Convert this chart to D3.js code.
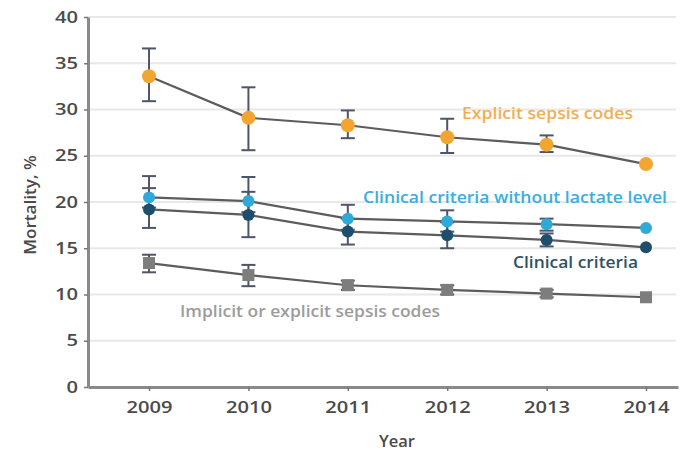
<!DOCTYPE html>
<html>
<head>
<meta charset="utf-8">
<script src="https://cdn.jsdelivr.net/npm/d3@7"></script>
<style>
  html, body { margin: 0; padding: 0; background: #fff; }
  svg { display: block; font-family: "Open Sans", "DejaVu Sans", sans-serif; }
</style>
</head>
<body>
<svg id="chart" width="681" height="452"></svg>
<script>
// Years on the x axis
const years = [2009, 2010, 2011, 2012, 2013, 2014];
const yTicks = [0, 5, 10, 15, 20, 25, 30, 35, 40];

// Mortality (%) with 95% CI, per definition
const explicitMort = [33.6, 29.1, 28.3, 27.0, 26.2, 24.1];
const explicitLo   = [30.9, 25.6, 26.9, 25.3, 25.4, null];
const explicitHi   = [36.6, 32.4, 29.9, 29.0, 27.2, null];

const noLactateMort = [20.5, 20.1, 18.2, 17.9, 17.6, 17.2];
const noLactateLo   = [19.4, 18.9, 17.0, 16.8, 16.9, null];
const noLactateHi   = [21.5, 21.1, 19.7, 19.1, 18.2, null];

const clinicalMort = [19.2, 18.6, 16.8, 16.4, 15.9, 15.1];
const clinicalLo   = [17.2, 16.2, 15.4, 15.0, 15.2, null];
const clinicalHi   = [22.8, 22.7, 18.2, 17.8, 16.6, null];

const implicitMort = [13.4, 12.1, 11.0, 10.5, 10.1, 9.7];
const implicitLo   = [12.4, 10.9, 10.5, 10.0, 9.7, null];
const implicitHi   = [14.3, 13.2, 11.5, 11.0, 10.5, null];

const seriesNames = [
  "Explicit sepsis codes",
  "Clinical criteria without lactate level",
  "Clinical criteria",
  "Implicit or explicit sepsis codes"
];

const svg = d3.select("#chart");

const x = d3.scaleLinear().domain([2008.386, 2014.322]).range([88, 678]);
const y = d3.scaleLinear().domain([0, 40]).range([387, 17]);

// Wide lettering: stretch each string to a fixed advance per character
function stretch(sel, perChar) {
  sel.each(function () {
    const t = d3.select(this);
    t.attr("textLength", t.text().length * perChar).attr("lengthAdjust", "spacingAndGlyphs");
  });
}

// Horizontal gridlines
svg.append("g")
  .selectAll("line")
  .data(yTicks.filter(d => d > 0))
  .join("line")
  .attr("x1", x.range()[0]).attr("x2", 676)
  .attr("y1", d => y(d)).attr("y2", d => y(d))
  .attr("stroke", "#e8e8e8").attr("stroke-width", 2);

// Axes
const yAxis = svg.append("g")
  .attr("transform", `translate(${x.range()[0]},0)`)
  .call(d3.axisLeft(y).tickValues(yTicks).tickSize(4).tickPadding(6).tickSizeOuter(0));
const xAxis = svg.append("g")
  .attr("transform", `translate(0,${y(0)})`)
  .call(d3.axisBottom(x).tickValues(years).tickFormat(d3.format("d")).tickSize(4).tickPadding(11).tickSizeOuter(0));

[yAxis, xAxis].forEach(g => {
  g.select(".domain").attr("stroke", "#8a8a8a").attr("stroke-width", 3);
  g.selectAll(".tick line").attr("stroke", "#777").attr("stroke-width", 1.5);
  g.selectAll(".tick text").attr("fill", "#4a4a4a").attr("font-size", 16)
    .attr("font-weight", 600)
    .attr("font-family", "Open Sans, DejaVu Sans, sans-serif")
    .call(stretch, 11.5);
});

// Axis titles
svg.append("text")
  .attr("transform", `translate(36,205) rotate(-90)`)
  .attr("text-anchor", "middle")
  .attr("fill", "#4a4a4a").attr("font-size", 16).attr("font-weight", 600)
  .text("Mortality, %")
  .call(stretch, 8.3);
svg.append("text")
  .attr("x", 397).attr("y", 447)
  .attr("text-anchor", "middle")
  .attr("fill", "#4a4a4a").attr("font-size", 16).attr("font-weight", 600)
  .text("Year")
  .call(stretch, 9);

const series = [
  { name: seriesNames[3], mort: implicitMort, lo: implicitLo, hi: implicitHi, color: "#7d7d7d", shape: "square", size: 12,
    label: { x: 180, y: 312, w: 260, color: "#9c9c9c" } },
  { name: seriesNames[0], mort: explicitMort, lo: explicitLo, hi: explicitHi, color: "#f2a531", shape: "circle", size: 7,
    label: { x: 462, y: 114, w: 171, color: "#f4ae52" } },
  { name: seriesNames[2], mort: clinicalMort, lo: clinicalLo, hi: clinicalHi, color: "#1d4f6c", shape: "circle", size: 6,
    label: { x: 513, y: 263, w: 125, color: "#2f5266" } },
  { name: seriesNames[1], mort: noLactateMort, lo: noLactateLo, hi: noLactateHi, color: "#2fa9d8", shape: "circle", size: 6,
    label: { x: 363, y: 198, w: 304, color: "#3aaee0" } }
];

const line = d3.line().x((d, i) => x(years[i])).y(d => y(d));

// Connecting lines
series.forEach(s => {
  svg.append("path")
    .datum(s.mort)
    .attr("d", line)
    .attr("fill", "none")
    .attr("stroke", "#5c5c5c")
    .attr("stroke-width", 2.2);
});

// Error bars
series.forEach(s => {
  const g = svg.append("g");
  years.forEach((yr, i) => {
    if (s.lo[i] == null) return;
    const cx = x(yr);
    g.append("line").attr("x1", cx).attr("x2", cx)
      .attr("y1", y(s.lo[i])).attr("y2", y(s.hi[i]))
      .attr("stroke", "#4f5568").attr("stroke-width", 2);
    [s.lo[i], s.hi[i]].forEach(v => {
      g.append("line").attr("x1", cx - 7).attr("x2", cx + 7)
        .attr("y1", y(v)).attr("y2", y(v))
        .attr("stroke", "#4f5568").attr("stroke-width", 2);
    });
  });
});

// Markers and series labels
series.forEach(s => {
  const g = svg.append("g");
  if (s.shape === "square") {
    g.selectAll("rect").data(s.mort).join("rect")
      .attr("x", (d, i) => x(years[i]) - s.size / 2)
      .attr("y", d => y(d) - s.size / 2)
      .attr("width", s.size).attr("height", s.size)
      .attr("fill", s.color);
  } else {
    g.selectAll("circle").data(s.mort).join("circle")
      .attr("cx", (d, i) => x(years[i]))
      .attr("cy", d => y(d))
      .attr("r", s.size)
      .attr("fill", s.color);
  }
  svg.append("text")
    .attr("x", s.label.x).attr("y", s.label.y)
    .attr("dy", "0.35em")
    .attr("fill", s.label.color)
    .attr("font-size", 15.5)
    .attr("font-weight", 600)
    .attr("textLength", s.label.w)
    .attr("lengthAdjust", "spacingAndGlyphs")
    .text(s.name);
});
</script>
</body>
</html>
